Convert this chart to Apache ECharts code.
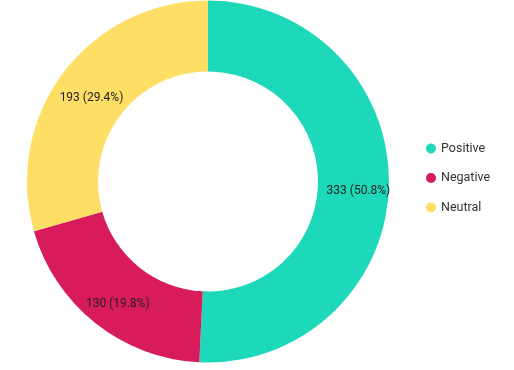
<!DOCTYPE html>
<html><head><meta charset="utf-8">
<script src="https://cdn.jsdelivr.net/npm/echarts@6/dist/echarts.min.js"></script>
<style>html,body{margin:0;padding:0;background:#fff}#c{width:514px;height:370px}</style>
</head><body><div id="c"></div>
<script>
const categories = ['Positive', 'Negative', 'Neutral'];
const values = [333, 130, 193];
const colors = ['#1dd9b9', '#d81b5a', '#fede65'];

const chart = echarts.init(document.getElementById('c'), null, {renderer: 'canvas'});
chart.setOption({
  animation: false,
  color: colors,
  textStyle: {fontFamily: 'Roboto'},
  legend: {
    orient: 'vertical',
    left: 421,
    top: 137,
    icon: 'circle',
    itemWidth: 10,
    itemHeight: 10,
    itemGap: 16.5,
    textStyle: {fontSize: 12.5, color: '#333', fontFamily: 'Roboto'},
    data: categories
  },
  series: [{
    type: 'pie',
    center: [208, 181.5],
    radius: [110, 181],
    startAngle: 90,
    clockwise: true,
    percentPrecision: 1,
    label: {
      position: 'inside',
      formatter: '{c} ({d}%)',
      fontSize: 12,
      color: '#222',
      fontFamily: 'Roboto',
      offset: [2, 6]
    },
    labelLine: {show: false},
    emphasis: {disabled: true},
    data: categories.map((n, i) => ({name: n, value: values[i]}))
  }]
});
</script></body></html>
